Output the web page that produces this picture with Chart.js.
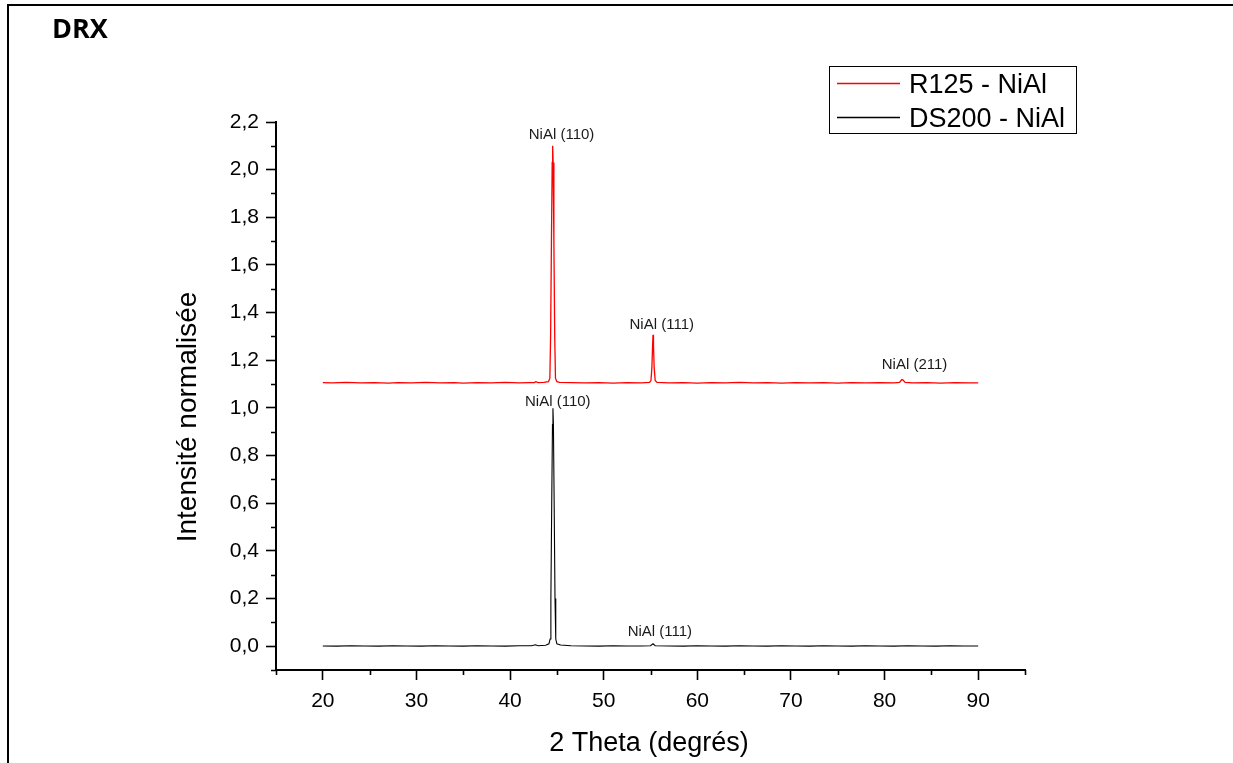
<!DOCTYPE html>
<html>
<head>
<meta charset="utf-8">
<script src="https://cdn.jsdelivr.net/npm/chart.js@4.4.1/dist/chart.umd.min.js"></script>
<style>
  html, body { margin: 0; padding: 0; background: #fff; }
  #wrap { position: relative; width: 1233px; height: 763px; }
  canvas { display: block; }
</style>
</head>
<body>
<div id="wrap"><canvas id="c" width="1233" height="763"></canvas></div>
<script>
// ---------- data ----------
const r125Theta = [20, 21, 22.5, 24, 25.5, 27, 28, 29.5, 31, 32.5, 34, 35, 36.5, 38, 39.5, 41, 42, 42.6, 42.75, 43,
  43.6, 44.1, 44.25, 44.33, 44.42, 44.5, 44.55, 44.6, 44.68, 44.77, 44.85, 45.0, 45.3, 46.5, 48, 49.5, 51, 52.5, 54, 54.9,
  55.05, 55.15, 55.22, 55.27, 55.32, 55.39, 55.5, 55.7, 57, 58.5, 60, 61.5, 63, 64.5, 66, 67.5, 69, 70.5, 72, 73.5,
  75, 76.5, 78, 79.5, 81, 81.6, 81.85, 81.95, 82.2, 83, 84.5, 86, 87.5, 89, 90];
const r125Intensity = [1.106, 1.105, 1.107, 1.105, 1.106, 1.104, 1.106, 1.105, 1.107, 1.105, 1.106, 1.104, 1.106, 1.105, 1.107, 1.105, 1.106, 1.106, 1.110, 1.106,
  1.107, 1.110, 1.125, 1.30, 1.70, 2.03, 2.100, 2.03, 1.70, 1.30, 1.125, 1.110, 1.107, 1.106, 1.105, 1.106, 1.104, 1.106, 1.105, 1.107,
  1.115, 1.17, 1.26, 1.307, 1.26, 1.17, 1.115, 1.107, 1.105, 1.106, 1.104, 1.106, 1.105, 1.107, 1.105, 1.106, 1.104, 1.106, 1.105, 1.106,
  1.104, 1.106, 1.105, 1.106, 1.105, 1.107, 1.119, 1.118, 1.107, 1.105, 1.106, 1.104, 1.106, 1.105, 1.105];

const ds200Theta = [20, 21.5, 23, 24.5, 26, 27.5, 29, 30.5, 32, 33.5, 35, 36.5, 38, 39.5, 41, 42.3, 42.7, 43.0, 43.8, 44.15,
  44.28, 44.36, 44.45, 44.53, 44.58, 44.63, 44.71, 44.8, 44.88, 45.0, 45.4, 46.5, 48, 49.5, 51, 52.5, 54, 55.0, 55.27, 55.5,
  57, 58.5, 60, 61.5, 63, 64.5, 66, 67.5, 69, 70.5, 72, 73.5, 75, 76.5, 78, 79.5, 81, 82.5, 84, 85.5,
  87, 88.5, 90];
const ds200Intensity = [0.001, 0.000, 0.002, 0.001, 0.000, 0.002, 0.001, 0.000, 0.002, 0.001, 0.000, 0.002, 0.001, 0.000, 0.002, 0.002, 0.006, 0.002, 0.004, 0.010,
  0.030, 0.20, 0.60, 0.93, 0.999, 0.93, 0.60, 0.20, 0.030, 0.010, 0.005, 0.002, 0.001, 0.000, 0.002, 0.001, 0.001, 0.002, 0.010, 0.002,
  0.001, 0.000, 0.002, 0.001, 0.000, 0.002, 0.001, 0.000, 0.002, 0.001, 0.000, 0.002, 0.001, 0.000, 0.002, 0.001, 0.000, 0.002, 0.001, 0.000,
  0.002, 0.001, 0.001];

const seriesNames = ['R125 - NiAl', 'DS200 - NiAl'];
const seriesColors = ['#ff0000', '#000000'];

const xMajorTicks = [20, 30, 40, 50, 60, 70, 80, 90];
const xMinorTicks = [15, 25, 35, 45, 55, 65, 75, 85, 95];
const yMajorTicks = [0, 0.2, 0.4, 0.6, 0.8, 1.0, 1.2, 1.4, 1.6, 1.8, 2.0, 2.2];
const yMinorTicks = [-0.1, 0.1, 0.3, 0.5, 0.7, 0.9, 1.1, 1.3, 1.5, 1.7, 1.9, 2.1];

const peakLabels = ['NiAl (110)', 'NiAl (111)', 'NiAl (211)', 'NiAl (110)', 'NiAl (111)'];
const peakLabelTheta = [45.5, 56.2, 83.2, 45.1, 56.0];
const peakLabelIntensity = [2.127, 1.331, 1.163, 1.008, 0.042];

// ---------- chart ----------
const FONT = '"Liberation Sans", Arial, sans-serif';

function pairs(xs, ys) { return xs.map((x, i) => ({ x: x, y: ys[i] })); }

const decorPlugin = {
  id: 'decor',
  afterDraw(chart) {
    const ctx = chart.ctx;
    const xs = chart.scales.x, ys = chart.scales.y;
    const ca = chart.chartArea;
    ctx.save();

    // minor ticks
    ctx.strokeStyle = '#000';
    ctx.lineWidth = 1.6;
    ctx.beginPath();
    xMinorTicks.forEach(v => {
      const px = Math.round(xs.getPixelForValue(v)) + 0.5;
      ctx.moveTo(px, ca.bottom);
      ctx.lineTo(px, ca.bottom + 5);
    });
    yMinorTicks.forEach(v => {
      const py = Math.round(ys.getPixelForValue(v)) + 0.5;
      ctx.moveTo(ca.left, py);
      ctx.lineTo(ca.left - 5, py);
    });
    ctx.stroke();

    // peak annotations
    ctx.fillStyle = '#1a1a1a';
    ctx.font = '15px ' + FONT;
    ctx.textAlign = 'center';
    ctx.textBaseline = 'alphabetic';
    peakLabels.forEach((t, i) => {
      ctx.fillText(t, xs.getPixelForValue(peakLabelTheta[i]), ys.getPixelForValue(peakLabelIntensity[i]));
    });

    // axis titles
    ctx.fillStyle = '#000';
    ctx.font = '27px ' + FONT;
    ctx.textAlign = 'center';
    ctx.fillText('2 Theta (degrés)', 649, 751);
    ctx.save();
    ctx.font = '28px ' + FONT;
    ctx.translate(196, 417);
    ctx.rotate(-Math.PI / 2);
    ctx.fillText('Intensité normalisée', 0, 0);
    ctx.restore();

    // legend
    ctx.lineWidth = 1;
    ctx.strokeStyle = '#000';
    ctx.strokeRect(829.5, 66.5, 247, 67);
    const rowY = [83.5, 117.5];
    const baseY = [93, 126.5];
    ctx.font = '27px ' + FONT;
    ctx.textAlign = 'left';
    seriesNames.forEach((n, i) => {
      ctx.strokeStyle = seriesColors[i];
      ctx.lineWidth = 1.3;
      ctx.beginPath();
      ctx.moveTo(837, rowY[i]);
      ctx.lineTo(900, rowY[i]);
      ctx.stroke();
      ctx.fillStyle = '#000';
      ctx.fillText(n, 909, baseY[i]);
    });

    // header
    ctx.font = 'bold 27px "Open Sans", ' + FONT;
    ctx.fillText('DRX', 52, 38);

    // page frame
    ctx.fillStyle = '#000';
    ctx.fillRect(7, 4, 1226, 2);
    ctx.fillRect(7, 4, 2, 759);
    ctx.restore();
  }
};

new Chart(document.getElementById('c'), {
  type: 'line',
  data: {
    datasets: [
      { label: seriesNames[0], data: pairs(r125Theta, r125Intensity), borderColor: seriesColors[0], borderWidth: 1.3, pointRadius: 0, tension: 0, fill: false },
      { label: seriesNames[1], data: pairs(ds200Theta, ds200Intensity), borderColor: seriesColors[1], borderWidth: 1.1, pointRadius: 0, tension: 0, fill: false }
    ]
  },
  options: {
    responsive: false,
    animation: false,
    devicePixelRatio: 1,
    layout: { padding: { left: 0, top: 122, right: 208, bottom: 0 } },
    plugins: { legend: { display: false }, tooltip: { enabled: false } },
    scales: {
      x: {
        type: 'linear', position: 'bottom', min: 15, max: 95,
        afterFit(s) { s.height = 93; },
        afterBuildTicks(s) { s.ticks = xMajorTicks.map(v => ({ value: v })); },
        grid: { display: true, drawOnChartArea: false, drawTicks: true, tickLength: 10, tickWidth: 1.6, tickColor: '#000' },
        border: { display: true, color: '#000', width: 2 },
        ticks: { color: '#000', font: { family: FONT, size: 21 }, padding: 9, maxRotation: 0, autoSkip: false,
          callback: v => String(v) }
      },
      y: {
        type: 'linear', position: 'left', min: -0.1, max: 2.2,
        afterFit(s) { s.width = 276; },
        afterBuildTicks(s) { s.ticks = yMajorTicks.map(v => ({ value: v })); },
        grid: { display: true, drawOnChartArea: false, drawTicks: true, tickLength: 10, tickWidth: 1.6, tickColor: '#000' },
        border: { display: true, color: '#000', width: 2 },
        ticks: { color: '#000', font: { family: FONT, size: 21 }, padding: 7, autoSkip: false,
          callback: v => Number(v).toFixed(1).replace('.', ',') }
      }
    }
  },
  plugins: [decorPlugin]
});
</script>
</body>
</html>
